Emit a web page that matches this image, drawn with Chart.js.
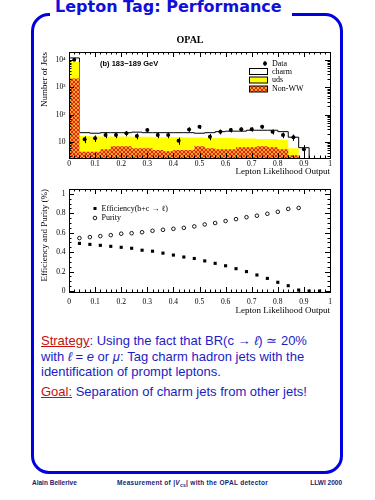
<!DOCTYPE html>
<html><head><meta charset="utf-8">
<script src="https://cdn.jsdelivr.net/npm/chart.js@4.4.0/dist/chart.umd.min.js"></script>
<style>
html,body{margin:0;padding:0;background:#fff;width:375px;height:500px;overflow:hidden;position:relative}
#frame{position:absolute;left:31px;top:13px;width:312px;height:461px;box-sizing:border-box;border:3px solid #0000e0;border-radius:18px}
#title{position:absolute;left:50px;top:-2px;padding:0 10px 2px 5px;background:#fff;font:bold 16px "DejaVu Sans";color:#1010d8;line-height:18px;white-space:nowrap}
.line{position:absolute;left:41px;font:13px "Liberation Sans";color:#1c1cc4;white-space:nowrap;line-height:15px}
.red{color:#c41010;text-decoration:underline}
.foot{position:absolute;top:479px;font:bold 6.5px "Liberation Sans";color:#1a1a70;line-height:8px;white-space:nowrap}
.cv{position:absolute;left:0}
</style></head>
<body>
<div id="frame"></div>
<div id="title">Lepton Tag: Performance</div>
<canvas id="c1" class="cv" style="top:30px" width="375" height="150"></canvas>
<canvas id="c2" class="cv" style="top:180px" width="375" height="140"></canvas>
<div class="line" style="top:333px"><span class="red">Strategy</span>: Using the fact that BR(c &rarr; <i>&#8467;</i>) &#8771; 20%</div>
<div class="line" style="top:348.5px">with <i>&#8467;</i> = <i>e</i> or <i>&mu;</i>: Tag charm hadron jets with the</div>
<div class="line" style="top:364px">identification of prompt leptons.</div>
<div class="line" style="top:384px"><span class="red">Goal:</span> Separation of charm jets from other jets!</div>
<div class="foot" style="left:32px">Alain Bellerive</div>
<div class="foot" style="left:117px;letter-spacing:0.3px">Measurement of |<i>V</i><sub style="font-size:5px">cs</sub>| with the OPAL detector</div>
<div class="foot" style="right:33px">LLWI 2000</div>
<script>
// ---------- data ----------
const binEdges = [0,0.04,0.08,0.12,0.16,0.20,0.24,0.28,0.32,0.36,0.40,0.44,0.48,0.52,0.56,0.60,0.64,0.68,0.72,0.76,0.80,0.84,0.88,0.92,0.96,1.00];
const nonWW = [2100,4.4,4.4,5.4,7.0,7.0,5.9,5.9,5.1,4.6,5.1,5.1,7.0,5.9,5.4,5.4,6.4,6.4,7.0,6.4,5.4,3.3,0,0,0];
const uds   = [6400,12.1,11.6,10.6,9.0,9.0,9.6,9.6,9.9,10.4,9.9,9.4,7.5,8.1,8.6,8.6,7.1,7.1,6.0,6.6,6.6,2.6,0,0,0];
const charm = [3500,5.5,5,6,6,6,7.5,6.5,7,7,7,7.5,6.5,8,10,11,11.5,13.5,14,14,12,9.1,6.2,0,0];
const dataX = [0.02,0.06,0.10,0.14,0.18,0.22,0.26,0.30,0.34,0.38,0.42,0.46,0.50,0.54,0.58,0.62,0.66,0.70,0.74,0.78,0.82,0.86,0.90];
const dataY = [10300,12.6,13.7,18,18,20.8,16.6,27.5,18,18,11.2,29,36,15.6,23.8,27.5,29.2,29.2,36.3,23.8,18,14.9,5.4];
const dataErr = [100,3.5,3.7,4.2,4.2,4.6,4.1,5.2,4.2,4.2,3.3,5.4,6.0,4.0,4.9,5.2,5.4,5.4,6.0,4.9,4.2,3.9,2.3];
const effX = [0.04,0.08,0.12,0.16,0.20,0.24,0.28,0.32,0.36,0.40,0.44,0.48,0.52,0.56,0.60,0.64,0.68,0.72,0.76,0.80,0.84,0.88,0.92,0.96];
const eff  = [0.49,0.48,0.47,0.46,0.45,0.44,0.42,0.41,0.39,0.37,0.35,0.335,0.31,0.285,0.26,0.23,0.20,0.165,0.13,0.09,0.055,0.01,0.0,0.0];
const purX = [0.04,0.08,0.12,0.16,0.20,0.24,0.28,0.32,0.36,0.40,0.44,0.48,0.52,0.56,0.60,0.64,0.68,0.72,0.76,0.80,0.84,0.88];
const pur  = [0.545,0.555,0.565,0.575,0.59,0.595,0.605,0.62,0.63,0.64,0.65,0.665,0.685,0.70,0.72,0.74,0.76,0.775,0.795,0.815,0.845,0.855];
const xTicks = [0,0.1,0.2,0.3,0.4,0.5,0.6,0.7,0.8,0.9,1];
const xTickLabels = ['0','0.1','0.2','0.3','0.4','0.5','0.6','0.7','0.8','0.9','1'];
const yTicksTop = [10,100,1000,10000];
const yTickLabelsTop = ['10','10\u00B2','10\u00B3','10\u2074'];
const yTicksBot = [0,0.2,0.4,0.6,0.8,1];
const yTickLabelsBot = ['0','0.2','0.4','0.6','0.8','1'];

// ---------- helpers ----------
const SERIF = '"Liberation Serif", "Times New Roman", serif';
const Y1MIN = 2.6, Y1MAX = 19800;
function cumulate(...arrs){ return arrs[0].map((_,i)=>arrs.reduce((s,a)=>s+a[i],0)); }
function stepData(levels){
  const floor = Y1MIN/20;
  const pts = levels.map((v,i)=>({x:binEdges[i], y: v>0 ? v : floor}));
  pts.push({x:binEdges[levels.length], y:floor});
  return pts;
}
function hatch(){
  const c=document.createElement('canvas'); c.width=4; c.height=4;
  const g=c.getContext('2d'); g.fillStyle='#e4280e'; g.fillRect(0,0,4,4);
  g.fillStyle='#f4a62a';
  [[0,0],[1,1],[2,2],[3,3],[3,0],[2,1],[1,2],[0,3]].forEach(([a,b])=>g.fillRect(a,b,1,1));
  return g.createPattern(c,'repeat');
}
const redLvl = nonWW;
const yelLvl = cumulate(nonWW, uds);
const whiLvl = cumulate(nonWW, uds, charm);

function frameTicks(logY, yMinorStep){
  return {
    id:'frameTicks',
    afterDatasetsDraw(chart){
      const {ctx, chartArea:a, scales:{x,y}} = chart;
      ctx.save();
      ctx.strokeStyle='#000'; ctx.lineWidth=1;
      ctx.beginPath();
      for(let i=0;i<=50;i++){
        const p=Math.round(x.getPixelForValue(i/50))+0.5;
        const len = i%5===0 ? 5 : 2.5;
        ctx.moveTo(p,a.bottom); ctx.lineTo(p,a.bottom-len);
        ctx.moveTo(p,a.top); ctx.lineTo(p,a.top+len);
      }
      const yt=[];
      if(logY){
        for(let k=0;k<=5;k++) for(let m=1;m<=9;m++){ const v=m*Math.pow(10,k); if(v>=y.min&&v<=y.max) yt.push([v,m===1?5:2.5]); }
      } else {
        for(let i=0;i<=Math.round(1/yMinorStep);i++){ const v=i*yMinorStep; yt.push([v, Math.abs(v/0.2-Math.round(v/0.2))<1e-6?5:2.5]); }
      }
      yt.forEach(([v,len])=>{
        const p=Math.round(y.getPixelForValue(v))+0.5;
        ctx.moveTo(a.left,p); ctx.lineTo(a.left+len,p);
        ctx.moveTo(a.right,p); ctx.lineTo(a.right-len,p);
      });
      ctx.stroke();
      ctx.strokeRect(Math.round(a.left)+0.5, Math.round(a.top)+0.5, Math.round(a.right-a.left), Math.round(a.bottom-a.top));
      ctx.restore();
    }
  };
}

const errorBars = {
  id:'errorBars',
  afterDatasetsDraw(chart){
    const {ctx, scales:{y}} = chart;
    const meta = chart.getDatasetMeta(0);
    ctx.save(); ctx.strokeStyle='#000'; ctx.lineWidth=1; ctx.beginPath();
    meta.data.forEach((el,i)=>{
      const v=dataY[i], e=dataErr[i];
      const px=Math.round(el.x)+0.5;
      ctx.moveTo(px, y.getPixelForValue(v+e));
      ctx.lineTo(px, y.getPixelForValue(Math.max(v-e, Y1MIN/2)));
    });
    ctx.stroke(); ctx.restore();
  }
};

const pat = hatch();
const legendTop = {
  id:'legendTop',
  afterDraw(chart){
    const ctx=chart.ctx; ctx.save();
    ctx.fillStyle='#000'; ctx.textBaseline='middle';
    ctx.font='bold 10px '+SERIF; ctx.textAlign='center';
    ctx.fillText('OPAL', 190, 10);
    ctx.textAlign='left';
    ctx.font='bold 7.5px "Liberation Sans", Arial, sans-serif';
    ctx.fillText('(b) 183\u2212189 GeV', 100, 33.5);
    ctx.font='8px '+SERIF;
    ctx.beginPath(); ctx.arc(265,33.5,2,0,Math.PI*2); ctx.fill();
    ctx.fillRect(264.5,31,1,5);
    ctx.fillText('Data',272,33.5);
    const rows=[['charm','#fff',41.5],['uds','#ffff00',50],['Non-WW',pat,59]];
    rows.forEach(([t,c,yc])=>{
      ctx.fillStyle=c; ctx.fillRect(249.5,yc-3,18,6);
      ctx.strokeStyle='#000'; ctx.lineWidth=1; ctx.strokeRect(249.5,yc-3,18,6);
      ctx.fillStyle='#000'; ctx.fillText(t,272,yc);
    });
    ctx.restore();
  }
};
const legendBot = {
  id:'legendBot',
  afterDraw(chart){
    const ctx=chart.ctx; ctx.save();
    ctx.font='8px '+SERIF; ctx.fillStyle='#000'; ctx.textBaseline='middle';
    ctx.fillRect(93.5,27,3,3);
    ctx.fillText('Efficiency(b+c \u2192 \u2113)',101.5,28.5);
    ctx.beginPath(); ctx.arc(95,38,1.8,0,Math.PI*2); ctx.lineWidth=0.9; ctx.strokeStyle='#000'; ctx.stroke();
    ctx.fillText('Purity',101.5,38);
    ctx.restore();
  }
};

const tickFont = {family:SERIF, size:7.5};
const titleFont = {family:SERIF, size:9};
const noGrid = {display:false, drawTicks:false, tickLength:0};

new Chart(document.getElementById('c1'), {
  type:'line',
  data:{datasets:[
    {label:'Data', type:'scatter', data:dataX.map((x,i)=>({x, y:dataY[i]})), pointRadius:2, pointHoverRadius:2, backgroundColor:'#000', borderColor:'#000', pointBorderWidth:0},
    {label:'Non-WW', data:stepData(redLvl), stepped:'before', fill:'start', backgroundColor:pat, borderWidth:0, pointRadius:0},
    {label:'uds', data:stepData(yelLvl), stepped:'before', fill:'start', backgroundColor:'#ffff00', borderWidth:0, pointRadius:0},
    {label:'charm', data:stepData(whiLvl), stepped:'before', fill:'start', backgroundColor:'#ffffff', borderColor:'#000', borderWidth:1, pointRadius:0}
  ]},
  options:{
    responsive:false, animation:false, events:[],
    layout:{padding:{left:0,right:45,top:22,bottom:0}},
    plugins:{legend:{display:false}, tooltip:{enabled:false}, title:{display:false}},
    scales:{
      x:{type:'linear', min:0, max:1, grid:noGrid, border:{display:false},
        afterBuildTicks:s=>{s.ticks=xTicks.map(v=>({value:v}));},
        afterFit:s=>{s.height=22;},
        ticks:{autoSkip:false, maxRotation:0, padding:1.5, font:tickFont, color:'#000', callback:(v,i)=>xTickLabels[i]},
        title:{display:true, text:'Lepton Likelihood Output', align:'end', color:'#000', font:titleFont, padding:{top:0,bottom:2.6}}},
      y:{type:'logarithmic', min:Y1MIN, max:Y1MAX, grid:noGrid, border:{display:false},
        afterBuildTicks:s=>{s.ticks=yTicksTop.map(v=>({value:v}));},
        afterFit:s=>{s.width=69;},
        ticks:{autoSkip:false, padding:3.5, font:tickFont, color:'#000', callback:(v,i)=>yTickLabelsTop[i]},
        title:{display:true, text:'Number of Jets', align:'end', color:'#000', font:titleFont, padding:{top:39.6,bottom:0}}}
    }
  },
  plugins:[frameTicks(true), errorBars, legendTop]
});

new Chart(document.getElementById('c2'), {
  type:'scatter',
  data:{datasets:[
    {label:'Efficiency', data:effX.map((x,i)=>({x, y:eff[i]})), pointStyle:'rect', pointRadius:2.2, pointHoverRadius:2.2, backgroundColor:'#000', borderColor:'#000', pointBorderWidth:0},
    {label:'Purity', data:purX.map((x,i)=>({x, y:pur[i]})), pointStyle:'circle', pointRadius:1.8, pointHoverRadius:1.8, backgroundColor:'#fff', borderColor:'#000', pointBorderWidth:0.9}
  ]},
  options:{
    responsive:false, animation:false, events:[],
    layout:{padding:{left:0,right:45,top:9,bottom:0}},
    plugins:{legend:{display:false}, tooltip:{enabled:false}},
    scales:{
      x:{type:'linear', min:0, max:1, grid:noGrid, border:{display:false},
        afterBuildTicks:s=>{s.ticks=xTicks.map(v=>({value:v}));},
        afterFit:s=>{s.height=28;},
        ticks:{autoSkip:false, maxRotation:0, padding:5.2, font:tickFont, color:'#000', callback:(v,i)=>xTickLabels[i]},
        title:{display:true, text:'Lepton Likelihood Output', align:'end', color:'#000', font:titleFont, padding:{top:0,bottom:3.6}}},
      y:{type:'linear', min:-0.01, max:1.05, grid:noGrid, border:{display:false},
        afterBuildTicks:s=>{s.ticks=yTicksBot.map(v=>({value:v}));},
        afterFit:s=>{s.width=69;},
        ticks:{autoSkip:false, padding:3.5, font:tickFont, color:'#000', callback:(v,i)=>yTickLabelsBot[i]},
        title:{display:true, text:'Efficiency and Purity (%)', align:'end', color:'#000', font:titleFont, padding:{top:39.6,bottom:0}}}
    }
  },
  plugins:[frameTicks(false, 0.05), legendBot]
});
</script>
</body></html>
